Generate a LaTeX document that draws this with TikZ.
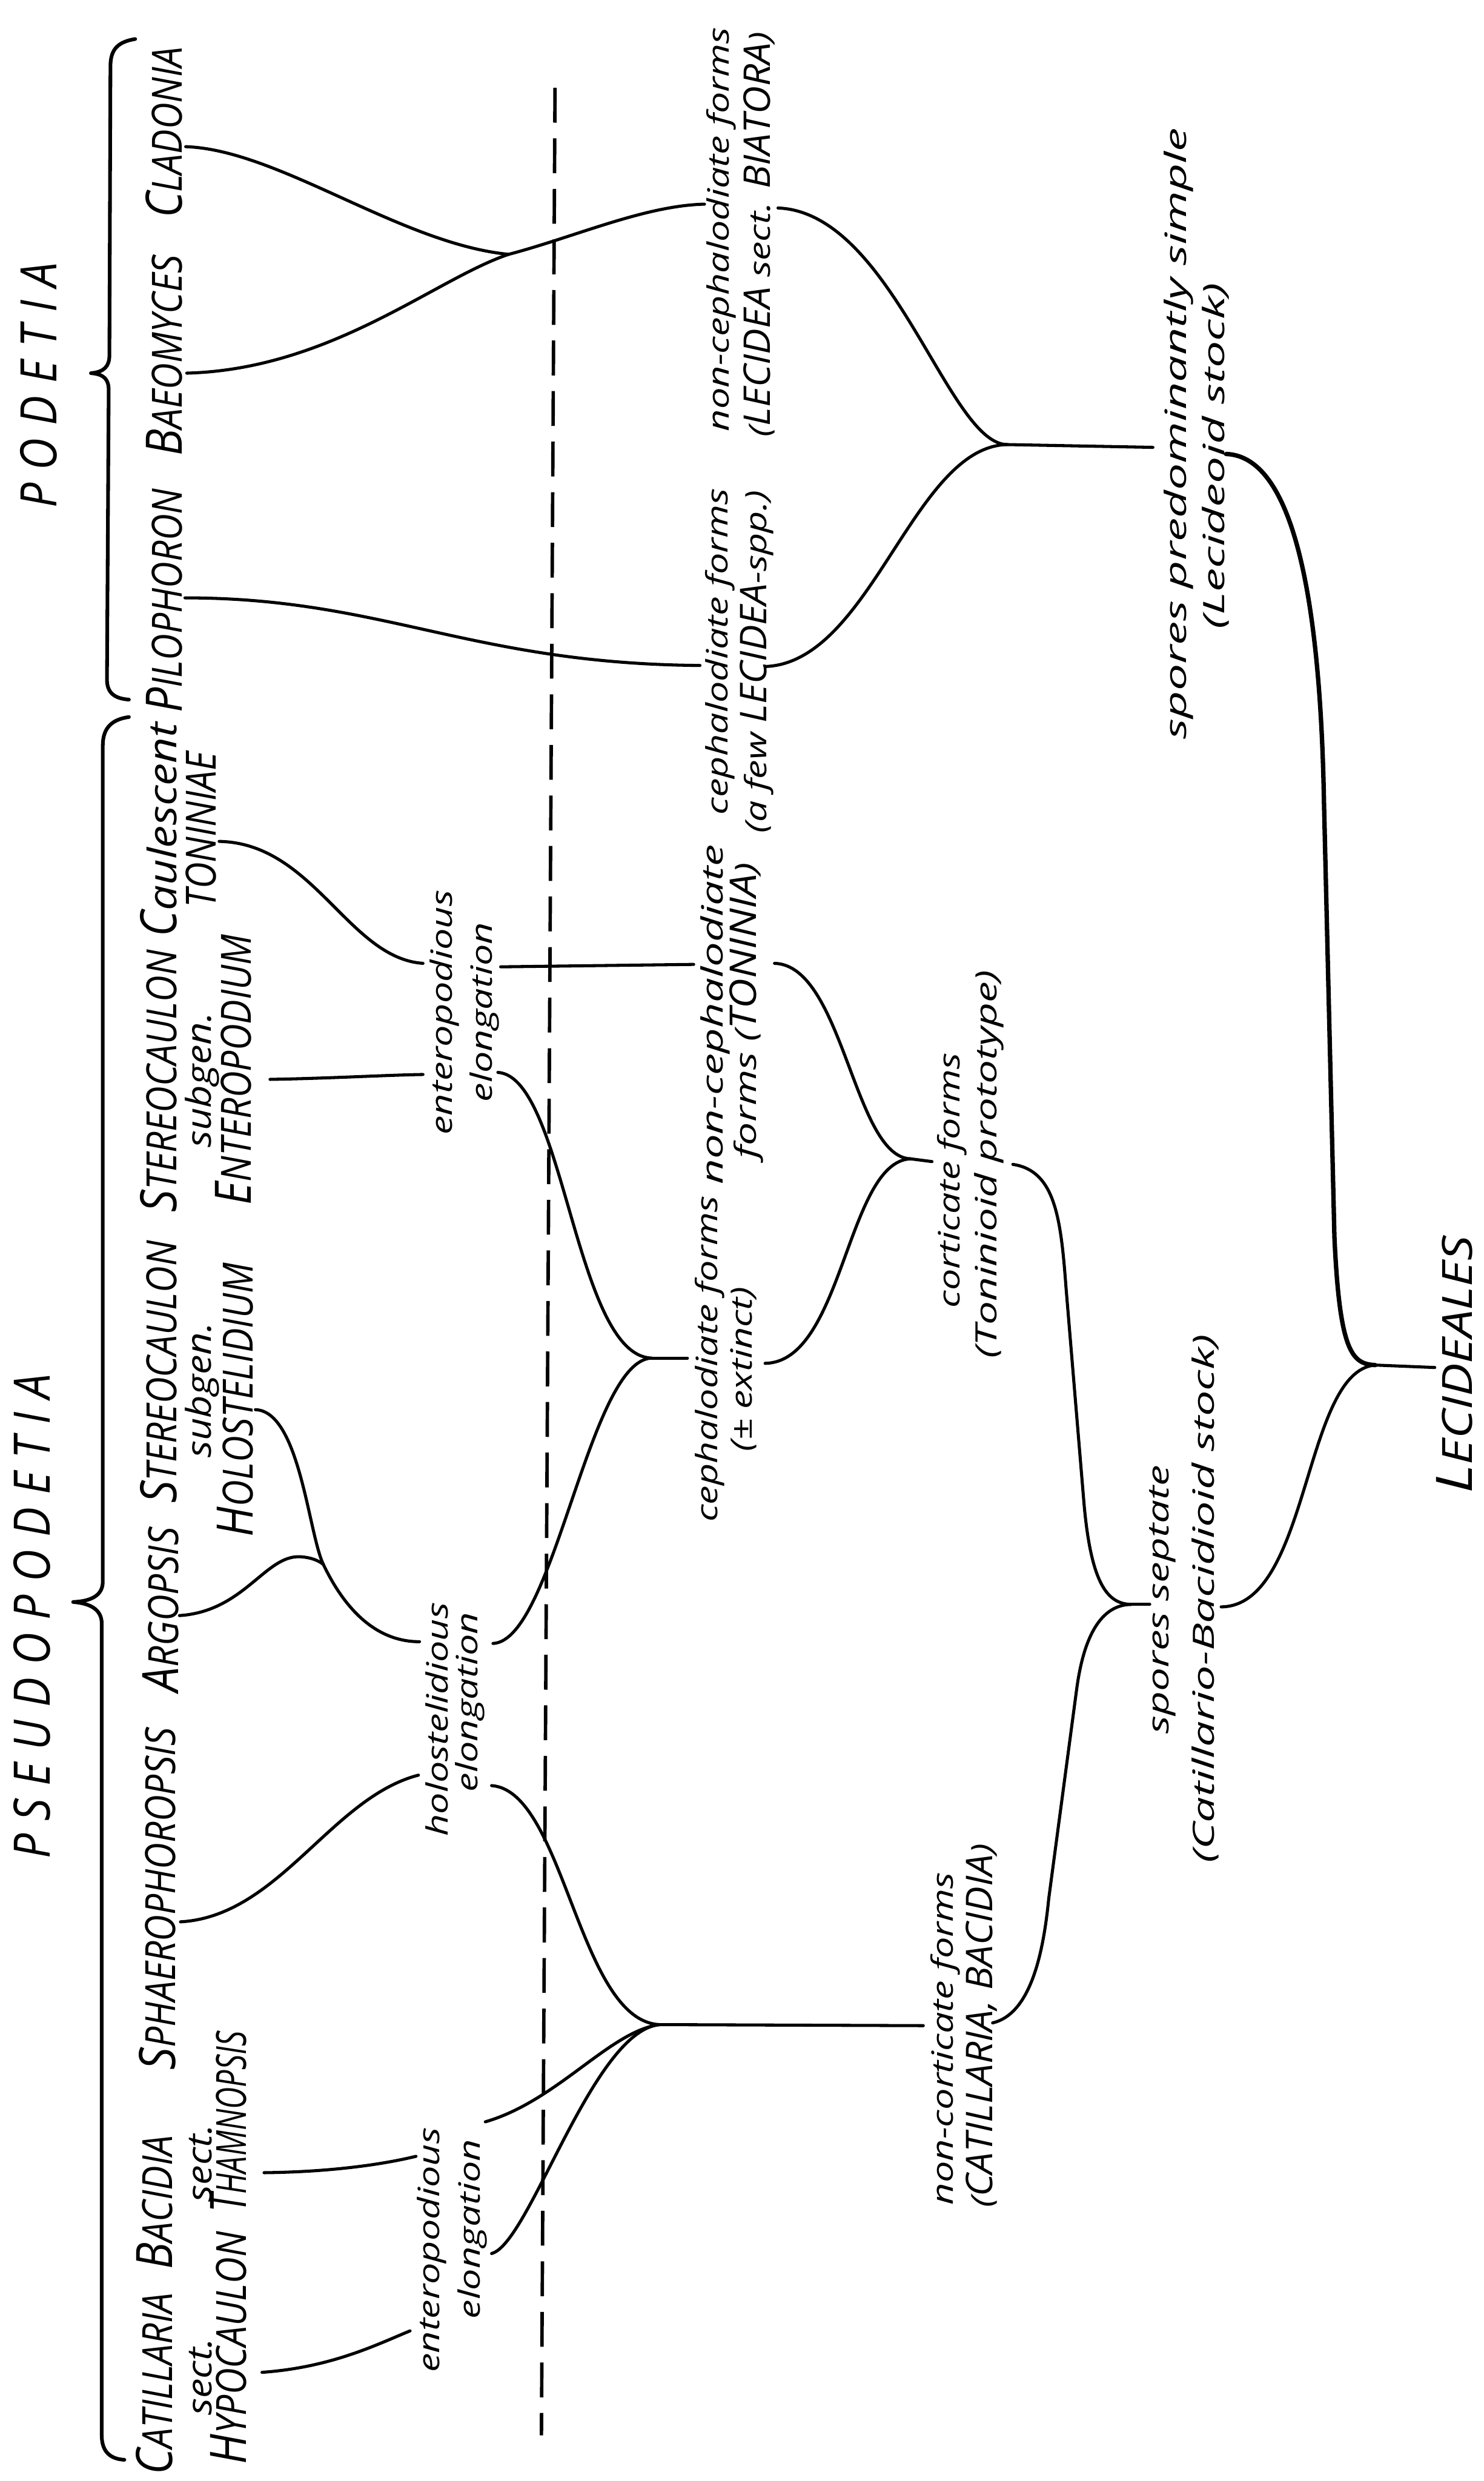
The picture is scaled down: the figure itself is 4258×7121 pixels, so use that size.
\documentclass[tikz,border=0pt]{standalone}
\usepackage{fontspec}
\newfontfamily\labfont{Open Sans}[FakeStretch=1.3]
\newfontfamily\capfont{Open Sans}[FakeStretch=0.88]
\newfontfamily\lcapfont{Open Sans}[FakeStretch=1.05]
\newfontfamily\taxlcfont{Open Sans}[FakeStretch=1.15]
\newcommand\Tx[2]{{\capfont\itshape\fontsize{41}{41}\selectfont #1}{\capfont\itshape\fontsize{34}{34}\selectfont #2}}
\newcommand\LC[1]{{\lcapfont\itshape\fontsize{30}{30}\selectfont #1}}
\newcommand\gp{\hspace{0.37cm}}
\tikzset{
 tax/.style={rotate=90, anchor=base, inner sep=0pt, outer sep=0pt},
 lab/.style={rotate=90, anchor=base, inner sep=0pt, outer sep=0pt, font=\labfont\itshape\fontsize{24}{24}\selectfont},
 tlc/.style={rotate=90, anchor=base, inner sep=0pt, outer sep=0pt, font=\taxlcfont\itshape\fontsize{28}{28}\selectfont},
 br/.style={line width=3pt, line cap=round, line join=round},
 ln/.style={line width=2.5pt, line cap=round},
 heavy/.style={line width=3.6pt, line cap=round},
 dashline/.style={line width=2.8pt, dash pattern=on 1cm off 0.45cm},
}
\begin{document}
\begin{tikzpicture}[x=0.01cm,y=-0.01cm]
\fill[white] (0,0) rectangle (4258,7121);
\useasboundingbox (0,0) rectangle (4258,7121);

% group titles and braces
\node[tax] (pod) at (163,1106) {\capfont\itshape\fontsize{41}{41}\selectfont P\gp O\gp D\gp E\gp T\gp I\gp A};
\node[tax] (pse) at (143,4640) {\capfont\itshape\fontsize{41}{41}\selectfont P\gp S\gp E\gp U\gp D\gp O\gp P\gp O\gp D\gp E\gp T\gp I\gp A};
\draw[br] (388,112) .. controls (340,120) and (317,140) .. (317,190) -- (314,1020)
  .. controls (314,1050) and (300,1068) .. (261,1071)
  .. controls (300,1074) and (312,1090) .. (312,1120) -- (307,1950)
  .. controls (307,1990) and (330,2005) .. (370,2008);
\draw[br] (370,2058) .. controls (320,2065) and (295,2090) .. (295,2140) -- (295,4540)
  .. controls (295,4580) and (260,4596) .. (210,4598)
  .. controls (260,4602) and (292,4620) .. (292,4660) -- (292,6990)
  .. controls (292,7040) and (320,7058) .. (357,7060);

% dashed line
\coordinate (dtop) at (1593,252);
\coordinate (dbot) at (1554,6990);
\draw[dashline] (dtop) -- (dbot);

% leaf taxa, row 1
\node[tax] (cla) at (522,380) {\Tx{C}{LADONIA}};
\node[tax] (bae) at (522,1020) {\Tx{B}{AEOMYCES}};
\node[tax] (pil) at (522,1724) {\Tx{P}{ILOPHORON}};
\node[tax] (cau) at (506,2381) {{\capfont\itshape\fontsize{41}{41}\selectfont C}{\taxlcfont\itshape\fontsize{32}{32}\selectfont aulescent}};
\node[tax] (ste1) at (506,3103) {\Tx{S}{TEREOCAULON}};
\node[tax] (ste2) at (506,3938) {\Tx{S}{TEREOCAULON}};
\node[tax] (arg) at (512,4620) {\Tx{A}{RGOPSIS}};
\node[tax] (sph) at (504,5450) {\Tx{S}{PHAEROPHOROPSIS}};
\node[tax] (bac) at (494,6321) {\Tx{B}{ACIDIA}};
\node[tax] (cat) at (494,6842) {\Tx{C}{ATILLARIA}};
% row 2
\node[tax] (ton) at (620,2381) {\capfont\itshape\fontsize{34}{34}\selectfont TONINIAE};
\node[tlc] (sg1) at (606,3100) {subgen.};
\node[tlc] (sg2) at (606,3990) {subgen.};
\node[tlc] (sc1) at (608,6209) {sect.};
\node[tlc] (sc2) at (608,6822) {sect.};
% row 3
\node[tax] (entp) at (720,3070) {\Tx{E}{NTEROPODIUM}};
\node[tax] (holst) at (725,4018) {\Tx{H}{OLOSTELIDIUM}};
\node[tax, xscale=0.83] (tham) at (706,6090) {\Tx{T}{HAMNOPSIS}};
\node[tax] (hypo) at (706,6739) {\Tx{H}{YPOCAULON}};

% intermediate labels
\node[lab] (ent1a) at (1298,2906) {enteropodious};
\node[lab] (ent1b) at (1413,2905) {elongation};
\node[lab] (hol1) at (1285,4935) {holostelidious};
\node[lab] (hol2) at (1370,4885) {elongation};
\node[lab] (ent2a) at (1262,6458) {enteropodious};
\node[lab] (ent2b) at (1377,6398) {elongation};
\node[lab] (ncb1) at (2093,658) {non-cephalodiate forms};
\node[lab] (ncb2) at (2210,673) {(\LC{LECIDEA} sect. \LC{BIATORA})};
\node[lab] (cf1) at (2088,1870) {cephalodiate forms};
\node[lab] (cf2) at (2200,1900) {(a few \LC{LECIDEA}-spp.)};
\node[lab, xscale=1.15] (nct1) at (2075,2912) {non-cephalodiate};
\node[lab, xscale=1.08] (nct2) at (2170,2900) {forms (\LC{TONINIA})};
\node[lab] (cfe1) at (2060,3900) {cephalodiate forms};
\node[lab] (cfe2) at (2158,3930) {(± extinct)};
\node[lab] (cort1) at (2755,3388) {corticate forms};
\node[lab, xscale=1.1] (cort2) at (2860,3341) {(Toninioid prototype)};
\node[lab] (nco1) at (2735,5851) {non-corticate forms};
\node[lab] (nco2) at (2849,5814) {(\LC{CATILLARIA, BACIDIA})};
\node[lab, xscale=1.1] (sep1) at (3355,4591) {spores septate};
\node[lab, xscale=1.2] (sep2) at (3485,4588) {(Catillario-Bacidioid stock)};
\node[lab, xscale=1.25] (sim1) at (3405,1244) {spores predominantly simple};
\node[lab, xscale=1.25] (sim2) at (3515,1308) {(Lecideoid stock)};
\node[tax, xscale=1.35] (lec) at (4226,3917) {\Tx{L}{ECIDEALES}};

% connector points
\coordinate (cla0) at (533,421);
\coordinate (bae0) at (536,1071);
\coordinate (pil0) at (531,1716);
\coordinate (jcb) at (1460,730);
\coordinate (ncbI) at (2022,586);
\coordinate (ncbO) at (2233,597);
\coordinate (cfI) at (2009,1910);
\coordinate (cfO) at (2198,1913);
\coordinate (jsimp) at (2889,1276);
\coordinate (simpI) at (3309,1284);
\coordinate (simpO) at (3519,1303);
\coordinate (jlec) at (3947,3918);
\coordinate (lecI) at (4118,3925);
\coordinate (ton0) at (629,2415);
\coordinate (entp0) at (775,3098);
\coordinate (holst0) at (733,4046);
\coordinate (arg0) at (515,4637);
\coordinate (sph0) at (518,5516);
\coordinate (bac0) at (758,6236);
\coordinate (cat0) at (752,6809);
\coordinate (jah) at (928,4490);
\coordinate (ent1I1) at (1214,2765);
\coordinate (ent1I2) at (1214,3084);
\coordinate (ent1O1) at (1437,2775);
\coordinate (ent1O2) at (1429,3078);
\coordinate (nctI) at (1991,2768);
\coordinate (nctO) at (2223,2765);
\coordinate (jcfe) at (1870,3898);
\coordinate (cfeI) at (1973,3898);
\coordinate (cfeO) at (2196,3913);
\coordinate (jcort) at (2613,3326);
\coordinate (cortI) at (2675,3334);
\coordinate (cortO) at (2907,3342);
\coordinate (jsept) at (3246,4605);
\coordinate (septI) at (3300,4605);
\coordinate (septO) at (3505,4612);
\coordinate (jnc) at (1893,5811);
\coordinate (ncI) at (2650,5814);
\coordinate (ncO) at (2849,5806);
\coordinate (holI1) at (1204,4712);
\coordinate (holI2) at (1201,5095);
\coordinate (holO1) at (1415,4717);
\coordinate (holO2) at (1411,5125);
\coordinate (ent2I1) at (1194,6189);
\coordinate (ent2I2) at (1177,6690);
\coordinate (ent2O1) at (1393,6090);
\coordinate (ent2O2) at (1411,6468);

% podetia part
\draw[ln] (cla0) .. controls (800,430) and (1150,700) .. (jcb);
\draw[ln] (bae0) .. controls (950,1060) and (1250,800) .. (jcb) .. controls (1650,680) and (1850,590) .. (ncbI);
\draw[ln] (pil0) .. controls (1100,1716) and (1350,1905) .. (cfI);
\draw[ln] (ncbO) .. controls (2560,610) and (2720,1270) .. (jsimp);
\draw[ln] (cfO) .. controls (2500,1900) and (2620,1285) .. (jsimp);
\draw[ln] (jsimp) -- (simpI);
\draw[heavy] (simpO) .. controls (3720,1310) and (3790,1750) .. (3800,2300) -- (3830,3550) .. controls (3845,3880) and (3880,3915) .. (jlec);
\draw[ln] (septO) .. controls (3760,4610) and (3740,3935) .. (jlec);
\draw[ln] (jlec) -- (lecI);

% pseudopodetia part
\draw[ln] (ton0) .. controls (900,2420) and (1000,2750) .. (ent1I1);
\draw[ln] (entp0) .. controls (950,3095) and (1100,3086) .. (ent1I2);
\draw[ln] (ent1O1) -- (nctI);
\draw[ln] (ent1O2) .. controls (1620,3090) and (1650,3890) .. (jcfe);
\draw[ln] (holO1) .. controls (1590,4710) and (1690,3905) .. (jcfe);
\draw[ln] (jcfe) -- (cfeI);
\draw[ln] (nctO) .. controls (2420,2770) and (2450,3320) .. (jcort);
\draw[ln] (cfeO) .. controls (2420,3910) and (2430,3335) .. (jcort);
\draw[ln] (jcort) -- (cortI);
\draw[ln] (cortO) .. controls (3030,3360) and (3045,3500) .. (3060,3700) -- (3110,4300) .. controls (3130,4550) and (3180,4603) .. (jsept);
\draw[ln] (ncO) .. controls (2960,5780) and (2995,5600) .. (3010,5450) -- (3090,4850) .. controls (3115,4660) and (3180,4606) .. (jsept);
\draw[ln] (jsept) -- (septI);

\draw[ln] (holst0) .. controls (860,4050) and (885,4400) .. (jah);
\draw[ln] (arg0) .. controls (700,4625) and (760,4465) .. (860,4468) .. controls (895,4470) and (915,4480) .. (jah);
\draw[ln] (jah) .. controls (990,4620) and (1080,4712) .. (holI1);
\draw[ln] (sph0) .. controls (800,5500) and (950,5160) .. (holI2);
\draw[ln] (holO2) .. controls (1620,5140) and (1660,5800) .. (jnc);
\draw[ln] (ent2O1) .. controls (1600,6030) and (1750,5830) .. (jnc);
\draw[ln] (ent2O2) .. controls (1520,6440) and (1700,5830) .. (jnc);
\draw[ln] (jnc) -- (ncI);
\draw[ln] (bac0) .. controls (950,6234) and (1100,6212) .. (ent2I1);
\draw[ln] (cat0) .. controls (950,6795) and (1080,6730) .. (ent2I2);
\end{tikzpicture}
\end{document}
